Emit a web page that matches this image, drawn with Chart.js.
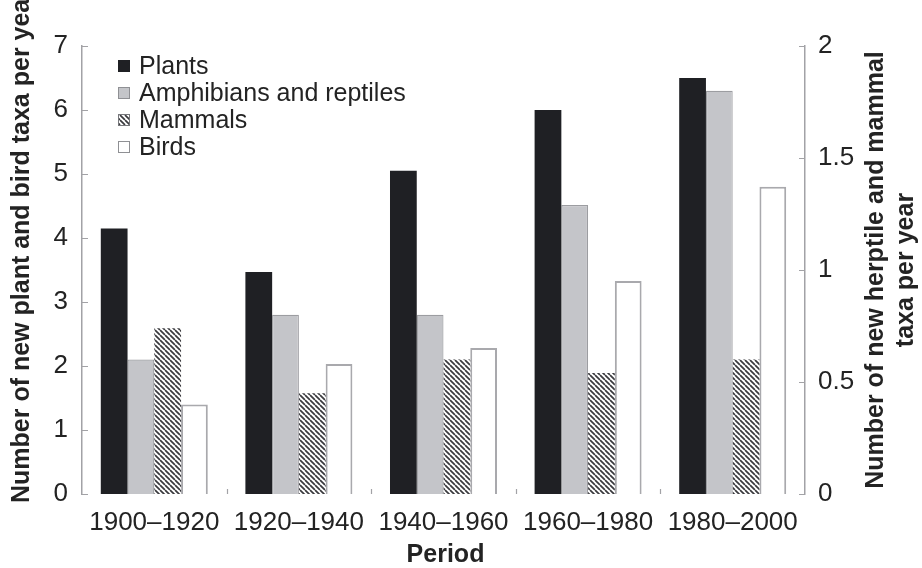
<!DOCTYPE html>
<html>
<head>
<meta charset="utf-8">
<script src="https://cdn.jsdelivr.net/npm/chart.js@4"></script>
<style>
  html, body { margin: 0; padding: 0; background: #fff; }
  #wrap { width: 922px; height: 568px; position: relative; }
</style>
</head>
<body>
<div id="wrap"><canvas id="chart" width="922" height="568"></canvas></div>
<script>
// Periods on the x axis
const categories = ['1900–1920', '1920–1940', '1940–1960', '1960–1980', '1980–2000'];

// New taxa per year (plants and birds read on the left axis)
const plants = [4.15, 3.47, 5.05, 6.0, 6.5];
const birds = [1.4, 2.03, 2.28, 3.33, 4.8];

// New taxa per year (herptiles and mammals read on the right axis)
const amphibiansReptiles = [0.6, 0.8, 0.8, 1.29, 1.8];
const mammals = [0.74, 0.45, 0.6, 0.54, 0.6];

// Tick labels
const leftTicks = ['0', '1', '2', '3', '4', '5', '6', '7'];
const rightTicks = ['0', '0.5', '1', '1.5', '2'];

const seriesNames = ['Plants', 'Amphibians and reptiles', 'Mammals', 'Birds'];

const FONT = "'Liberation Sans', Arial, Helvetica, sans-serif";
const TEXT = '#232323';
const AXIS = '#a2a2a6';

// Diagonal hatch used for the mammal bars
function makeHatch() {
  const s = 5;
  const c = document.createElement('canvas');
  c.width = s; c.height = s;
  const g = c.getContext('2d');
  g.fillStyle = '#ffffff';
  g.fillRect(0, 0, s, s);
  g.strokeStyle = '#3a3a3e';
  g.lineWidth = 1.7;
  g.beginPath();
  for (let k = -1; k <= 1; k++) {
    g.moveTo(k * s, 0);
    g.lineTo(k * s + s, s);
  }
  g.stroke();
  return g.createPattern(c, 'repeat');
}
const hatch = makeHatch();

// Inward tick marks on both value axes and short marks between periods
const axisMarks = {
  id: 'axisMarks',
  afterDraw(chart) {
    const ctx = chart.ctx;
    const area = chart.chartArea;
    const yl = chart.scales.y;
    const yr = chart.scales.y1;
    const x = chart.scales.x;
    ctx.save();
    ctx.strokeStyle = AXIS;
    ctx.lineWidth = 1.2;
    ctx.beginPath();
    yl.ticks.forEach(t => {
      const p = Math.round(yl.getPixelForValue(t.value)) + 0.5;
      ctx.moveTo(area.left, p);
      ctx.lineTo(area.left + 6, p);
    });
    yr.ticks.forEach(t => {
      const p = Math.round(yr.getPixelForValue(t.value)) + 0.5;
      ctx.moveTo(area.right, p);
      ctx.lineTo(area.right - 6, p);
    });
    for (let i = 1; i < categories.length; i++) {
      const p = Math.round((x.getPixelForValue(i - 1) + x.getPixelForValue(i)) / 2) + 0.5;
      ctx.moveTo(p, area.bottom);
      ctx.lineTo(p, area.bottom - 5);
    }
    ctx.stroke();
    ctx.restore();
  }
};

// Axis titles (both vertical titles read bottom to top)
const axisTitles = {
  id: 'axisTitles',
  afterDraw(chart) {
    const ctx = chart.ctx;
    const area = chart.chartArea;
    ctx.save();
    ctx.fillStyle = TEXT;
    ctx.font = 'bold 25px ' + FONT;
    ctx.textAlign = 'center';
    ctx.textBaseline = 'middle';
    ctx.fillText('Period', (area.left + area.right) / 2 + 2, 555);

    ctx.save();
    ctx.translate(22, 246);
    ctx.rotate(-Math.PI / 2);
    ctx.fillText('Number of new plant and bird taxa per year', 0, 0);
    ctx.restore();

    const cy = (area.top + area.bottom) / 2;
    ctx.save();
    ctx.translate(876, cy);
    ctx.rotate(-Math.PI / 2);
    ctx.fillText('Number of new herptile and mammal', 0, 0);
    ctx.restore();
    ctx.save();
    ctx.translate(906, cy);
    ctx.rotate(-Math.PI / 2);
    ctx.fillText('taxa per year', 0, 0);
    ctx.restore();
    ctx.restore();
  }
};

// Legend drawn inside the plot area, top left
const insideLegend = {
  id: 'insideLegend',
  afterDraw(chart, args, opts) {
    const ctx = chart.ctx;
    ctx.save();
    ctx.font = '25px ' + FONT;
    ctx.textBaseline = 'middle';
    ctx.textAlign = 'left';
    chart.data.datasets.forEach((ds, i) => {
      const cy = opts.top + i * opts.rowGap;
      const bx = opts.left, by = cy - opts.box / 2;
      ctx.fillStyle = ds.backgroundColor;
      ctx.fillRect(bx, by, opts.box, opts.box);
      ctx.strokeStyle = ds.legendBorder;
      ctx.lineWidth = 1;
      ctx.strokeRect(bx + 0.5, by + 0.5, opts.box - 1, opts.box - 1);
      ctx.fillStyle = TEXT;
      ctx.fillText(ds.label, opts.left + opts.box + 9, cy + 1);
    });
    ctx.restore();
  }
};

new Chart(document.getElementById('chart'), {
  type: 'bar',
  data: {
    labels: categories,
    datasets: [
      {
        label: seriesNames[0], data: plants, yAxisID: 'y',
        backgroundColor: '#1f2024', borderColor: '#2a2b2f', borderWidth: 0,
        legendBorder: '#1f2024'
      },
      {
        label: seriesNames[1], data: amphibiansReptiles, yAxisID: 'y1',
        backgroundColor: '#c4c5c9', borderColor: '#9c9da1', borderWidth: 1.2,
        legendBorder: '#8f9094'
      },
      {
        label: seriesNames[2], data: mammals, yAxisID: 'y1',
        backgroundColor: hatch, borderColor: '#55565a', borderWidth: 0,
        legendBorder: '#77787c'
      },
      {
        label: seriesNames[3], data: birds, yAxisID: 'y',
        backgroundColor: '#ffffff', borderColor: '#a9a9ad', borderWidth: 2,
        legendBorder: '#8f9094'
      }
    ]
  },
  options: {
    responsive: false,
    animation: false,
    devicePixelRatio: 1,
    layout: { padding: { top: 46, left: 0, right: 0, bottom: 0 } },
    datasets: { bar: { categoryPercentage: 0.74, barPercentage: 1.0 } },
    plugins: {
      legend: { display: false },
      tooltip: { enabled: false },
      insideLegend: { left: 118, top: 66, rowGap: 27, box: 12 }
    },
    scales: {
      x: {
        offset: true,
        border: { display: false },
        grid: { display: false, drawTicks: false },
        ticks: { color: TEXT, font: { family: FONT, size: 26 }, padding: 13, maxRotation: 0, autoSkip: false },
        afterFit(s) { s.height = 74; }
      },
      y: {
        position: 'left', min: 0, max: 7,
        border: { display: true, color: AXIS, width: 1.5 },
        grid: { display: false, drawTicks: false },
        ticks: {
          stepSize: 1, color: TEXT, font: { family: FONT, size: 26 }, padding: 14,
          callback: (v, i) => leftTicks[i]
        },
        afterFit(s) { s.width = 82; }
      },
      y1: {
        position: 'right', min: 0, max: 2,
        border: { display: true, color: AXIS, width: 1.5 },
        grid: { display: false, drawTicks: false },
        ticks: {
          stepSize: 0.5, color: TEXT, font: { family: FONT, size: 26 }, padding: 13,
          callback: (v, i) => rightTicks[i]
        },
        afterFit(s) { s.width = 117; }
      }
    }
  },
  plugins: [axisMarks, axisTitles, insideLegend]
});
</script>
</body>
</html>
